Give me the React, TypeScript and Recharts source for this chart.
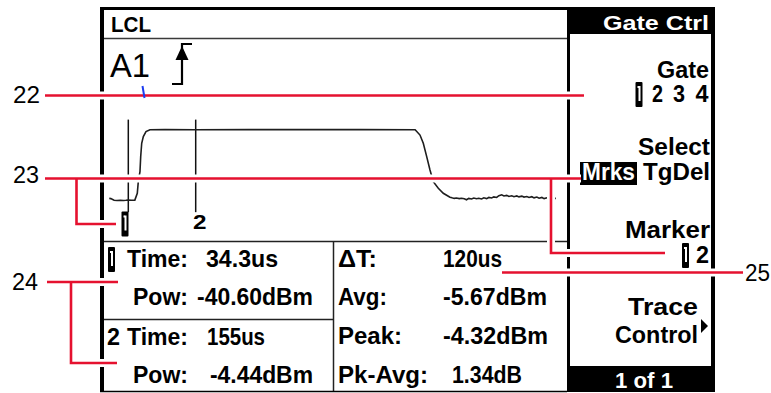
import React from 'react';
import { LineChart, Line, XAxis, YAxis, ReferenceLine } from 'recharts';

// ---- data ----
const timeUs = [
  0, 3, 8.8, 14, 20, 26, 30, 34.3, 40, 46,
  50.4, 52.2, 55.2, 56.5, 58.3, 61.2, 66, 73,
  100, 155, 250, 350, 450, 548,
  556.7, 562.6, 568.7, 574.6, 580.5, 589.5, 598.4, 610.4,
  614, 618, 622, 627, 631, 636, 640, 644, 649, 653, 658, 662, 667, 671, 676, 680,
  685, 689, 694, 698, 703, 707, 712, 716, 721, 725, 730, 734, 739, 743, 748, 752,
  757, 761, 766, 770, 775, 779, 784, 788, 793, 797, 800,
];
const powerDbm = [
  -40.3, -40.4, -41.3, -41.4, -41.3, -41.4, -41.3, -41.1, -41.3, -41.2,
  -37.6, -31.5, -26.3, -18.4, -11.4, -7.9, -5.3, -4.3,
  -4.25, -4.3, -4.25, -4.25, -4.25, -4.3,
  -7.1, -11.4, -18.4, -25.4, -31.5, -35.0, -37.6, -39.7,
  -40.0, -40.3, -40.1, -40.4, -40.2, -40.5, -41.0, -40.3, -40.6, -40.1, -40.5, -40.2, -40.6, -40.0, -40.4, -39.8,
  -40.1, -39.5, -39.8, -38.9, -38.4, -39.0, -38.7, -39.3, -38.9, -39.4, -39.0, -39.5, -39.1, -39.6, -39.3, -39.8,
  -39.4, -40.0, -39.6, -40.2, -39.8, -40.4, -40.0, -40.7, -40.2, -40.8, -40.0,
];
const markerTimeUs = [34.3, 155];
const markerTimes = ['34.3us', '155us'];
const markerPowers = ['-40.60dBm', '-4.44dBm'];
const statLabels = ['ΔT:', 'Avg:', 'Peak:', 'Pk-Avg:'];
const statValues = ['120us', '-5.67dBm', '-4.32dBm', '1.34dB'];
const calloutNumbers = ['22', '23', '24', '25'];

const traceData = timeUs.map((t, i) => ({ t, p: powerDbm[i] }));

// ---- layout / styles ----
const FONT = '"Liberation Sans", Arial, sans-serif';
const RED = '#e5112f';

type TProps = { x: number; y: number; w?: number; s?: number; fill?: string; bold?: boolean; children: React.ReactNode };
const T = ({ x, y, w, s = 23, fill = '#000', bold = true, children }: TProps) => (
  <text
    x={x}
    y={y}
    textLength={w}
    lengthAdjust={w ? 'spacingAndGlyphs' : undefined}
    fontFamily={FONT}
    fontWeight={bold ? 700 : 400}
    fontSize={s}
    fill={fill}
  >
    {children}
  </text>
);

const Box1 = ({ x, y }: { x: number; y: number }) => (
  <g>
    <rect x={x} y={y} width={7} height={25} rx={1} fill="#000" />
    <rect x={x + 3} y={y + 4} width={2} height={15} fill="#fff" />
    <rect x={x + 2} y={y + 4} width={1.5} height={2} fill="#fff" />
  </g>
);

const calloutPaths = [
  'M45,95.5 H584',
  'M45,178.5 H581 M76.5,178.5 V224 H116 M551,178.5 V253 H665',
  'M47,282 H118 M71,282 V363 H117',
  'M502,272.5 H743',
];

export default function App() {
  const statY = [267, 305, 344, 383];
  const statLW = [39, 49, 64, 90];
  const statVX = [443, 443, 443, 452];
  const statVW = [59, 104, 105, 70];
  return (
    <div style={{ position: 'absolute', left: 0, top: 0, width: 771, height: 393, background: '#fff', overflow: 'hidden' }}>
      {/* instrument frame and texts */}
      <svg style={{ position: 'absolute', left: 0, top: 0 }} width={771} height={393}>
        <rect x={100} y={7} width={4} height={385} fill="#000" />
        <rect x={100} y={7} width={468} height={3} fill="#000" />
        <line x1={104} y1={38.5} x2={567} y2={38.5} stroke="#3a3a3a" strokeWidth={1.5} />
        <line x1={104} y1={241.5} x2={567} y2={241.5} stroke="#222" strokeWidth={1.5} />
        <line x1={333.5} y1={241} x2={333.5} y2={391} stroke="#222" strokeWidth={1.5} />
        <line x1={104} y1={319.5} x2={333} y2={319.5} stroke="#222" strokeWidth={1.5} />
        <line x1={100} y1={391.5} x2={567} y2={391.5} stroke="#000" strokeWidth={1.5} />

        {/* header */}
        <T x={111} y={32} w={40} s={22}>LCL</T>
        <T x={110} y={77} w={40} s={34} bold={false}>A1</T>
        <polyline points="172,84 182,84 182,44 192,44" fill="none" stroke="#000" strokeWidth={2.2} />
        <polygon points="182,46 175.5,60 188.5,60" fill="#000" />

        {/* marker labels under trace */}
        <Box1 x={121.5} y={211.5} />
        <T x={193} y={229} w={13.5} s={21}>2</T>

        {/* marker readouts */}
        <Box1 x={108} y={247} />
        <T x={127} y={267} w={61}>Time:</T>
        <T x={206} y={267} w={72}>{markerTimes[0]}</T>
        <T x={133} y={305} w={55}>Pow:</T>
        <T x={197} y={305} w={116}>{markerPowers[0]}</T>
        <T x={107} y={345} w={13}>2</T>
        <T x={127} y={345} w={61}>Time:</T>
        <T x={207} y={345} w={58}>{markerTimes[1]}</T>
        <T x={133} y={383} w={55}>Pow:</T>
        <T x={210} y={383} w={103}>{markerPowers[1]}</T>

        {/* gate stats */}
        {statLabels.map((l, i) => (
          <T key={'l' + i} x={338} y={statY[i]} w={statLW[i]}>{l}</T>
        ))}
        {statValues.map((v, i) => (
          <T key={'v' + i} x={statVX[i]} y={statY[i]} w={statVW[i]}>{v}</T>
        ))}

        {/* softkey panel */}
        <rect x={567} y={7} width={148} height={385} fill="#000" />
        <rect x={570} y={34} width={141} height={332} fill="#fff" />
        <T x={603} y={30} w={106} s={21} fill="#fff">Gate Ctrl</T>
        <T x={657} y={78} w={52}>Gate</T>
        <Box1 x={635.5} y={82} />
        <T x={652} y={102} w={11}>2</T>
        <T x={673} y={102} w={12}>3</T>
        <T x={695.5} y={102} w={13}>4</T>
        <T x={638} y={155} w={72}>Select</T>
        <rect x={580} y={162} width={57} height={23} fill="#000" />
        <T x={582} y={180} w={53} fill="#fff">Mrks</T>
        <T x={643} y={180} w={67}>TgDel</T>
        <T x={625} y={238} w={85}>Marker</T>
        <Box1 x={682} y={243} />
        <T x={696} y={263} w={13}>2</T>
        <T x={628} y={315} w={70}>Trace</T>
        <T x={615} y={343} w={83}>Control</T>
        <polygon points="701,319 708,326 701,333" fill="#000" />
        <T x={615} y={388} w={58} s={22} fill="#fff">1 of 1</T>
      </svg>

      {/* trace */}
      <div style={{ position: 'absolute', left: 0, top: 0 }}>
        <LineChart
          width={771}
          height={393}
          data={traceData}
          margin={{ top: 119.6, right: 215.15, bottom: 180.85, left: 109.15 }}
        >
          <XAxis type="number" dataKey="t" domain={[0, 800]} hide allowDataOverflow />
          <YAxis type="number" domain={[-47.5, 1]} hide allowDataOverflow />
          {markerTimeUs.map((m, i) => (
            <ReferenceLine key={i} x={m} stroke="#111" strokeWidth={1.5} />
          ))}
          <Line
            dataKey="p"
            type="linear"
            stroke="#1e1e1e"
            strokeWidth={1.6}
            dot={false}
            isAnimationActive={false}
          />
        </LineChart>
      </div>

      {/* callouts */}
      <svg style={{ position: 'absolute', left: 0, top: 0 }} width={771} height={393}>
        {calloutPaths.map((d, i) => (
          <path key={'h' + i} d={d} fill="none" stroke="#fff" strokeWidth={8} />
        ))}
        {calloutPaths.map((d, i) => (
          <path key={'r' + i} d={d} fill="none" stroke={RED} strokeWidth={2.6} />
        ))}
        <line x1={142.5} y1={86} x2={144.5} y2={98} stroke="#1c3cf0" strokeWidth={2} />
        <T x={13} y={103} w={27} s={24} bold={false}>{calloutNumbers[0]}</T>
        <T x={13} y={183} w={26} s={24} bold={false}>{calloutNumbers[1]}</T>
        <T x={12} y={290} w={26} s={24} bold={false}>{calloutNumbers[2]}</T>
        <T x={745} y={281} w={25} s={24} bold={false}>{calloutNumbers[3]}</T>
      </svg>
    </div>
  );
}
